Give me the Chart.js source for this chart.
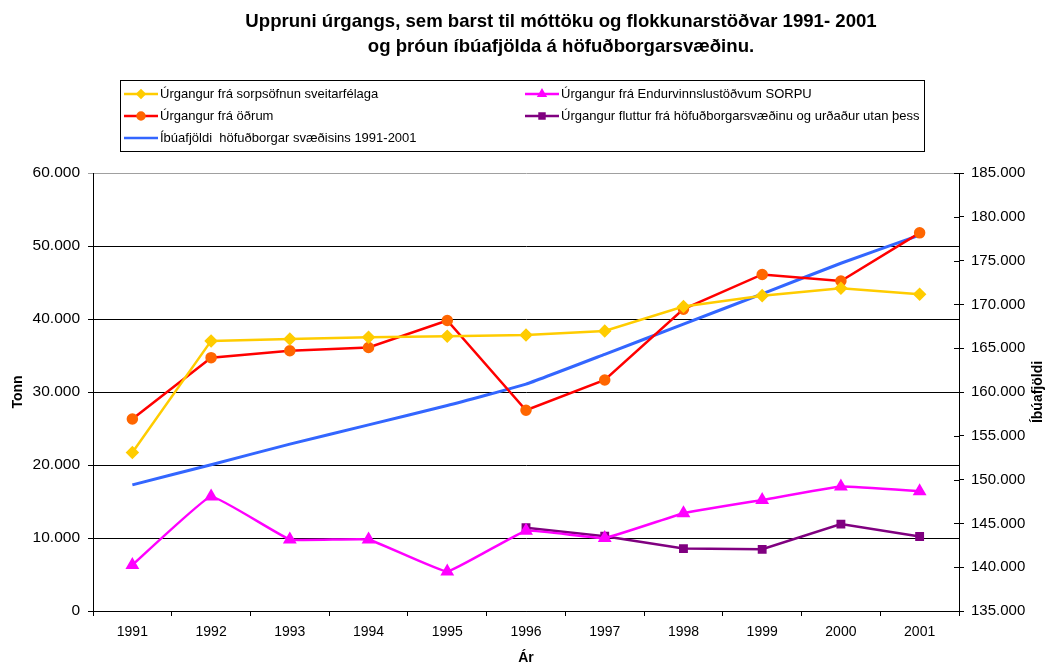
<!DOCTYPE html>
<html>
<head>
<meta charset="utf-8">
<script src="https://cdn.jsdelivr.net/npm/chart.js@4.4.1/dist/chart.umd.min.js"></script>
<style>
  body { margin: 0; background: #fff; }
  #wrap { width: 1047px; height: 668px; }
</style>
</head>
<body>
<div id="wrap"><canvas id="myChart" width="1047" height="668"></canvas></div>
<script>
var years = ['1991', '1992', '1993', '1994', '1995', '1996', '1997', '1998', '1999', '2000', '2001'];
var sorpsofnun = [21700, 37000, 37250, 37500, 37650, 37800, 38350, 41700, 43200, 44200, 43400];
var sorpu = [6300, 15700, 9800, 9800, 5400, 11000, 10000, 13400, 15200, 17050, 16400];
var odrum = [26300, 34700, 35650, 36100, 39800, 27500, 31650, 41350, 46100, 45200, 51800];
var fluttur = [null, null, null, null, null, 11400, 10250, 8550, 8450, 11900, 10200];
var ibuar = [149400, 151700, 154050, 156250, 158450, 160900, 164300, 167750, 171200, 174700, 177900];
var titleLines = ['Uppruni úrgangs, sem barst til móttöku og flokkunarstöðvar 1991- 2001',
                  'og þróun íbúafjölda á höfuðborgarsvæðinu.'];

Chart.defaults.font.family = '"Liberation Sans", Arial, sans-serif';
Chart.defaults.color = '#000';

function fmt(v) {
    return String(v).replace(/\B(?=(\d{3})+(?!\d))/g, '.');
}

// title, two-column legend box, right axis title and crossing ticks
var decor = {
    id: 'decor',
    afterDraw: function(chart) {
        var c = chart.ctx;
        c.save();
        c.fillStyle = '#000';
        c.textAlign = 'center';
        c.textBaseline = 'middle';
        c.font = 'bold 18.6px "Liberation Sans", Arial, sans-serif';
        titleLines.forEach(function(t, i) { c.fillText(t, 561, 22 + i * 25); });

        // legend
        c.strokeStyle = '#000';
        c.lineWidth = 1;
        c.strokeRect(120.5, 80.5, 804, 71);
        c.font = '13px "Liberation Sans", Arial, sans-serif';
        c.textAlign = 'left';
        chart.data.datasets.forEach(function(ds, i) {
            var col = i % 2, row = Math.floor(i / 2);
            var x0 = col === 0 ? 124 : 525;
            var y = 94 + row * 22;
            c.strokeStyle = ds.borderColor;
            c.lineWidth = 2.5;
            c.beginPath();
            c.moveTo(x0, y);
            c.lineTo(x0 + 34, y);
            c.stroke();
            if (ds.pointRadius > 0) {
                c.fillStyle = ds.pointBackgroundColor;
                c.strokeStyle = ds.pointBackgroundColor;
                Chart.helpers.drawPoint(c, {pointStyle: ds.pointStyle, radius: 3.5, rotation: 0, borderWidth: 1}, x0 + 17, y);
            }
            c.fillStyle = '#000';
            c.fillText(ds.label, x0 + 36, y);
        });

        // right axis: ticks crossing the axis line
        var s = chart.scales.y1;
        c.strokeStyle = '#000';
        c.lineWidth = 1;
        s.ticks.forEach(function(t) {
            var y = Math.round(s.getPixelForValue(t.value)) + 0.5;
            c.beginPath();
            c.moveTo(s.left - 5, y);
            c.lineTo(s.left, y);
            c.stroke();
        });

        // right axis title, reading bottom to top
        c.translate(1038, (chart.chartArea.top + chart.chartArea.bottom) / 2);
        c.rotate(-Math.PI / 2);
        c.textAlign = 'center';
        c.font = 'bold 14px "Liberation Sans", Arial, sans-serif';
        c.fillStyle = '#000';
        c.fillText('Íbúafjöldi', 0, 0);
        c.restore();
    }
};

var ctx = document.getElementById('myChart').getContext('2d');
var myChart = new Chart(ctx, {
    type: 'line',
    data: {
        labels: years,
        datasets: [{
            label: 'Úrgangur frá sorpsöfnun sveitarfélaga',
            data: sorpsofnun,
            yAxisID: 'y',
            borderColor: '#FFCC00',
            backgroundColor: '#FFCC00',
            pointBackgroundColor: '#FFCC00',
            pointBorderColor: '#FFCC00',
            pointStyle: 'rectRot',
            pointRadius: 5,
            borderWidth: 2.5,
            tension: 0
        }, {
            label: 'Úrgangur frá Endurvinnslustöðvum SORPU',
            data: sorpu,
            yAxisID: 'y',
            borderColor: '#FF00FF',
            backgroundColor: '#FF00FF',
            pointBackgroundColor: '#FF00FF',
            pointBorderColor: '#FF00FF',
            pointStyle: 'triangle',
            pointRadius: 5.5,
            borderWidth: 2.5,
            tension: 0.08
        }, {
            label: 'Úrgangur frá öðrum',
            data: odrum,
            yAxisID: 'y',
            borderColor: '#FF0000',
            backgroundColor: '#FF6600',
            pointBackgroundColor: '#FF6600',
            pointBorderColor: '#FF6600',
            pointStyle: 'circle',
            pointRadius: 4.5,
            borderWidth: 2.5,
            tension: 0
        }, {
            label: 'Úrgangur fluttur frá höfuðborgarsvæðinu og urðaður utan þess',
            data: fluttur,
            yAxisID: 'y',
            borderColor: '#800080',
            backgroundColor: '#800080',
            pointBackgroundColor: '#800080',
            pointBorderColor: '#800080',
            pointStyle: 'rect',
            pointRadius: 4.5,
            borderWidth: 2.5,
            tension: 0
        }, {
            label: 'Íbúafjöldi  höfuðborgar svæðisins 1991-2001',
            data: ibuar,
            yAxisID: 'y1',
            borderColor: '#3366FF',
            backgroundColor: '#3366FF',
            pointBackgroundColor: '#3366FF',
            pointRadius: 0,
            borderWidth: 3,
            tension: 0.1
        }]
    },
    options: {
        responsive: false,
        animation: false,
        layout: { padding: { top: 173, left: 0, right: 0, bottom: 0 } },
        plugins: {
            legend: { display: false },
            title: { display: false },
            tooltip: { enabled: false }
        },
        scales: {
            x: {
                offset: true,
                afterFit: function(s) { s.height = 57; },
                grid: { offset: true, drawOnChartArea: false, drawTicks: true, tickLength: 5, color: '#000' },
                border: { color: '#000', width: 1 },
                ticks: { font: { size: 14 }, padding: 8, maxRotation: 0 },
                title: { display: true, text: 'Ár', font: { size: 14, weight: 'bold' }, padding: { top: 4, bottom: 1 } }
            },
            y: {
                position: 'left',
                min: 0,
                max: 60000,
                afterFit: function(s) { s.width = 93; },
                ticks: { stepSize: 10000, font: { size: 15.5 }, padding: 8, callback: function(v) { return fmt(v); } },
                grid: {
                    tickLength: 5,
                    color: function(c) { return c.tick && c.tick.value === 60000 ? '#a0a0a0' : '#000'; }
                },
                border: { color: '#000', width: 1 },
                title: { display: true, text: 'Tonn', font: { size: 14, weight: 'bold' }, padding: { top: 10, bottom: 0 } }
            },
            y1: {
                position: 'right',
                min: 135000,
                max: 185000,
                afterFit: function(s) { s.width = 88; },
                ticks: { stepSize: 5000, font: { size: 15 }, padding: 7, callback: function(v) { return fmt(v); } },
                grid: { drawOnChartArea: false, tickLength: 5, color: '#000' },
                border: { color: '#000', width: 1 }
            }
        }
    },
    plugins: [decor]
});
</script>
</body>
</html>
